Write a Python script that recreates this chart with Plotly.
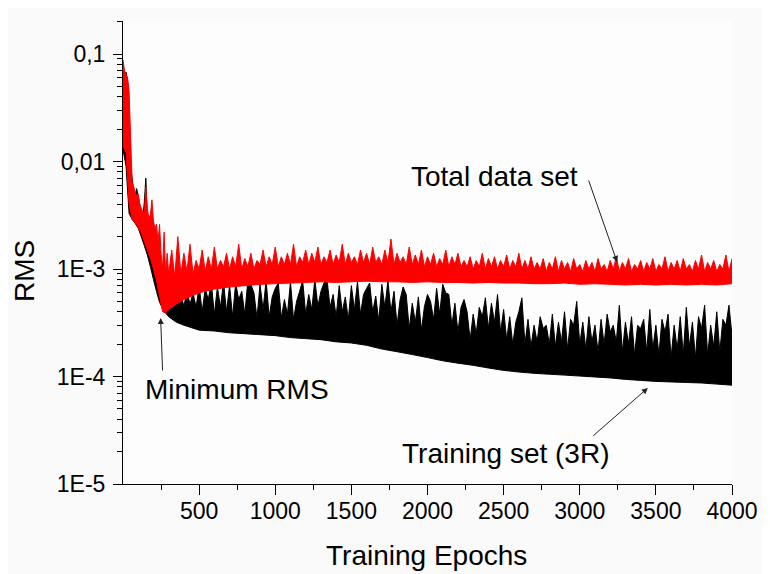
import plotly.graph_objects as go

# ---------------- data ----------------
# epochs at which the lower envelopes are given
env_epochs = list(range(0, 300, 20)) + [300, 350, 400] + list(range(500, 4001, 100))

# lower envelope of the Training set (3R) curve, units of 1e-5
train_low_e5 = [1300, 900, 330, 290, 265, 240, 200, 165, 135, 105, 80, 62, 49, 43, 39,
                36, 32, 30,
                27, 26.5, 25.5, 25, 24.5, 24, 23, 22.5, 22, 21,
                20.5, 19.5, 18, 17, 16, 15, 14, 13.3, 12.7, 12,
                11.4, 11, 10.7, 10.5, 10.3, 10.1, 9.9, 9.7, 9.4, 9.2,
                9.0, 8.9, 8.8, 8.7, 8.5, 8.3]

# lower envelope of the Total data set curve, units of 1e-4
total_low_e4 = [140, 120, 40, 29, 27, 24.5, 21.5, 18, 15, 12.5, 10, 7.8, 5.6, 4.0, 3.9,
                4.2, 4.7, 5.2,
                6.0, 6.5, 6.8, 7.0, 7.2, 7.3, 7.4, 7.5, 7.6, 7.5,
                7.6, 7.7, 7.6, 7.6, 7.5, 7.6, 7.5, 7.5, 7.4, 7.5,
                7.4, 7.4, 7.3, 7.3, 7.4, 7.2, 7.3, 7.2, 7.1, 7.2,
                7.1, 7.2, 7.1, 7.2, 7.1, 7.3]

# epochs at which the noisy upper edges are given
top_epochs = list(range(0, 300, 10)) + list(range(300, 4001, 20))

# upper (noisy) edge of the Training set (3R) curve, units of 1e-5
train_top_e5 = [
    8000, 6500, 6800, 5500, 3000, 900, 700, 520, 480, 560,
    470, 400, 330, 300, 420, 700, 300, 260, 230, 200,
    170, 140, 150, 110, 95, 80, 70, 75, 65, 60,
    55, 48, 60, 46, 58, 45, 62, 47, 60, 44,
    70, 40, 66, 52, 74, 38, 68, 44, 76, 40,
    70, 36, 74, 52, 62, 38, 78, 72, 60, 35,
    72, 42, 78, 36, 55, 66, 74, 35, 52, 38,
    76, 34, 50, 62, 78, 38, 58, 42, 80, 45,
    62, 74, 80, 44, 58, 36, 70, 40, 55, 34,
    70, 42, 76, 38, 58, 66, 74, 40, 56, 33,
    72, 44, 78, 40, 62, 30, 52, 68, 58, 28,
    48, 32, 55, 27, 45, 58, 50, 34, 66, 38,
    72, 60, 58, 30, 48, 26, 44, 52, 40, 22,
    38, 25, 44, 36, 54, 28, 48, 32, 58, 26,
    42, 22, 36, 20, 32, 40, 54, 20, 34, 19,
    30, 21, 36, 28, 30, 20, 38, 19, 32, 21,
    40, 18, 34, 30, 50, 20, 32, 18, 36, 21,
    30, 17, 34, 20, 38, 26, 30, 21, 46, 17,
    32, 20, 36, 16, 30, 28, 34, 17, 42, 18,
    30, 16, 34, 26, 38, 15, 30, 18, 36, 16,
    44, 19, 32, 15, 36, 28, 46, 16, 30, 19,
    40, 17, 34, 30, 46, 24]

# upper (noisy) edge of the Total data set curve, units of 1e-4
total_top_e4 = [
    880, 700, 650, 600, 450, 170, 65, 58, 52, 48,
    50, 40, 37, 34, 33, 58, 36, 30, 32, 44,
    28, 24, 26, 18, 26, 14, 10, 22, 9, 14,
    9, 15, 8.5, 20, 9, 14, 9.5, 17, 9, 12,
    10, 15, 9.5, 13, 10, 16, 10, 12, 10.5, 14,
    10, 13, 10.5, 17, 10, 12.5, 10.5, 14, 10, 12,
    11, 15, 10.5, 13, 11, 16, 10.5, 13, 11, 14,
    11, 17, 10.5, 13, 11.5, 15, 11, 14, 11.5, 16,
    11, 13, 11.5, 15, 11, 13.5, 11.5, 17, 11, 14,
    11.5, 13, 11, 15, 11.5, 14, 11, 16, 11.5, 13,
    11, 15, 11.5, 19, 11, 14, 11.5, 13, 11, 16,
    11, 13.5, 11, 15, 10.5, 13, 11, 14, 10.5, 12.5,
    11, 15, 10.5, 13, 11, 14, 10.5, 12, 10.5, 13,
    10, 12, 10.5, 14, 10, 12.5, 10.5, 13, 10, 12,
    10.5, 13.5, 10, 12, 10.5, 14, 10, 12, 10, 13,
    10, 11.5, 10, 12.5, 9.5, 11.5, 10, 13, 9.5, 12,
    10, 11.5, 9.5, 12.5, 10, 11, 9.5, 12, 10, 11.5,
    9.5, 12.5, 10, 11, 9.5, 12, 10, 13, 9.5, 11.5,
    10, 12.5, 9.5, 11, 10, 12, 9.5, 11.5, 10, 12.5,
    9.5, 11, 10, 13, 9.5, 11.5, 10, 12, 9.5, 12.5,
    10, 11, 9.5, 12, 10, 13.5, 9.5, 11.5, 10, 12,
    9.5, 11, 10, 13.5, 9.5, 12.5]

x_tick_vals = [500, 1000, 1500, 2000, 2500, 3000, 3500, 4000]
x_tick_text = ["500", "1000", "1500", "2000", "2500", "3000", "3500", "4000"]
y_tick_vals = [1e-5, 1e-4, 1e-3, 1e-2, 1e-1]
y_tick_text = ["1E-5", "1E-4", "1E-3", "0,01", "0,1"]

train_low = [v * 1e-5 for v in train_low_e5]
train_top = [v * 1e-5 for v in train_top_e5]
total_low = [v * 1e-4 for v in total_low_e4]
total_top = [v * 1e-4 for v in total_top_e4]

# ---------------- figure ----------------
# the page adds an 8px body margin, so the figure is 8px smaller and shifted
OFF = 8
W, H = 770 - OFF, 574 - OFF
L, T = 123 - OFF, 21 - OFF
R = W - (738 - OFF)
B = H - (484 - OFF)
PW, PH = W - L - R, H - T - B

FONT = "Liberation Sans, Arial, sans-serif"
BLACK = "#000000"
RED = "#ff0000"

fig = go.Figure()
fig.add_trace(go.Scatter(x=env_epochs, y=train_low, mode="lines",
                         line=dict(color=BLACK, width=1, simplify=False),
                         hoverinfo="skip", showlegend=False))
fig.add_trace(go.Scatter(x=top_epochs, y=train_top, mode="lines",
                         line=dict(color=BLACK, width=1, simplify=False),
                         fill="tonexty", fillcolor=BLACK,
                         hoverinfo="skip", showlegend=False))
fig.add_trace(go.Scatter(x=env_epochs, y=total_low, mode="lines",
                         line=dict(color=RED, width=1, simplify=False),
                         hoverinfo="skip", showlegend=False))
fig.add_trace(go.Scatter(x=top_epochs, y=total_top, mode="lines",
                         line=dict(color=RED, width=1, simplify=False),
                         fill="tonexty", fillcolor=RED,
                         hoverinfo="skip", showlegend=False))

minor_y = [k * 10 ** e for e in range(-5, 0) for k in range(2, 10)] + [0.2]

fig.update_xaxes(range=[0, 4000], tickvals=x_tick_vals, ticktext=x_tick_text,
                 ticks="outside", ticklen=10, tickwidth=1, tickcolor=BLACK,
                 showline=True, linecolor=BLACK, linewidth=1, mirror=False,
                 showgrid=False, zeroline=False, ticklabelstandoff=-4,
                 tickfont=dict(family=FONT, size=23, color=BLACK),
                 minor=dict(tickvals=list(range(250, 4000, 500)), ticks="outside",
                            ticklen=5, tickcolor=BLACK, showgrid=False))
fig.update_yaxes(type="log", range=[-5, -0.693], tickvals=y_tick_vals, ticktext=y_tick_text,
                 ticks="outside", ticklen=9, tickwidth=1, tickcolor=BLACK,
                 showline=True, linecolor=BLACK, linewidth=1, mirror=False,
                 showgrid=False, zeroline=False, ticklabelstandoff=3,
                 tickfont=dict(family=FONT, size=23, color=BLACK),
                 minor=dict(tickvals=minor_y, ticks="outside", ticklen=5,
                            tickcolor=BLACK, showgrid=False))


def px(xp):
    return (xp - OFF - L) / PW


def py(yp):
    return (H - B - (yp - OFF)) / PH


ann_font = dict(family=FONT, size=28, color=BLACK)
annotations = [
    dict(text="Training Epochs", x=px(429), y=py(555), font=ann_font),
    dict(text="RMS", x=px(23), y=py(271), font=ann_font, textangle=-90),
    dict(text="Total data set", x=px(498), y=py(176), font=ann_font),
    dict(text="Training set (3R)", x=px(509), y=py(453), font=ann_font),
    dict(text="Minimum RMS", x=px(238), y=py(389), font=ann_font),
]
for a in annotations:
    a.update(xref="paper", yref="paper", showarrow=False,
             xanchor="center", yanchor="middle")

arrows = [((593, 179), (622, 262)), ((597, 437), (653, 388)), ((163, 372), (161, 318))]
for (tx, ty), (hx, hy) in arrows:
    annotations.append(dict(text="", x=px(hx), y=py(hy), xref="paper", yref="paper",
                            showarrow=True, ax=tx - hx, ay=ty - hy,
                            arrowhead=2, arrowsize=1.2, arrowwidth=1,
                            arrowcolor="#222222"))

fig.update_layout(width=W, height=H, margin=dict(l=L, r=R, t=T, b=B),
                  paper_bgcolor="#fafafa", plot_bgcolor="#fdfdfd",
                  annotations=annotations, showlegend=False)

fig.write_html("out.html")
